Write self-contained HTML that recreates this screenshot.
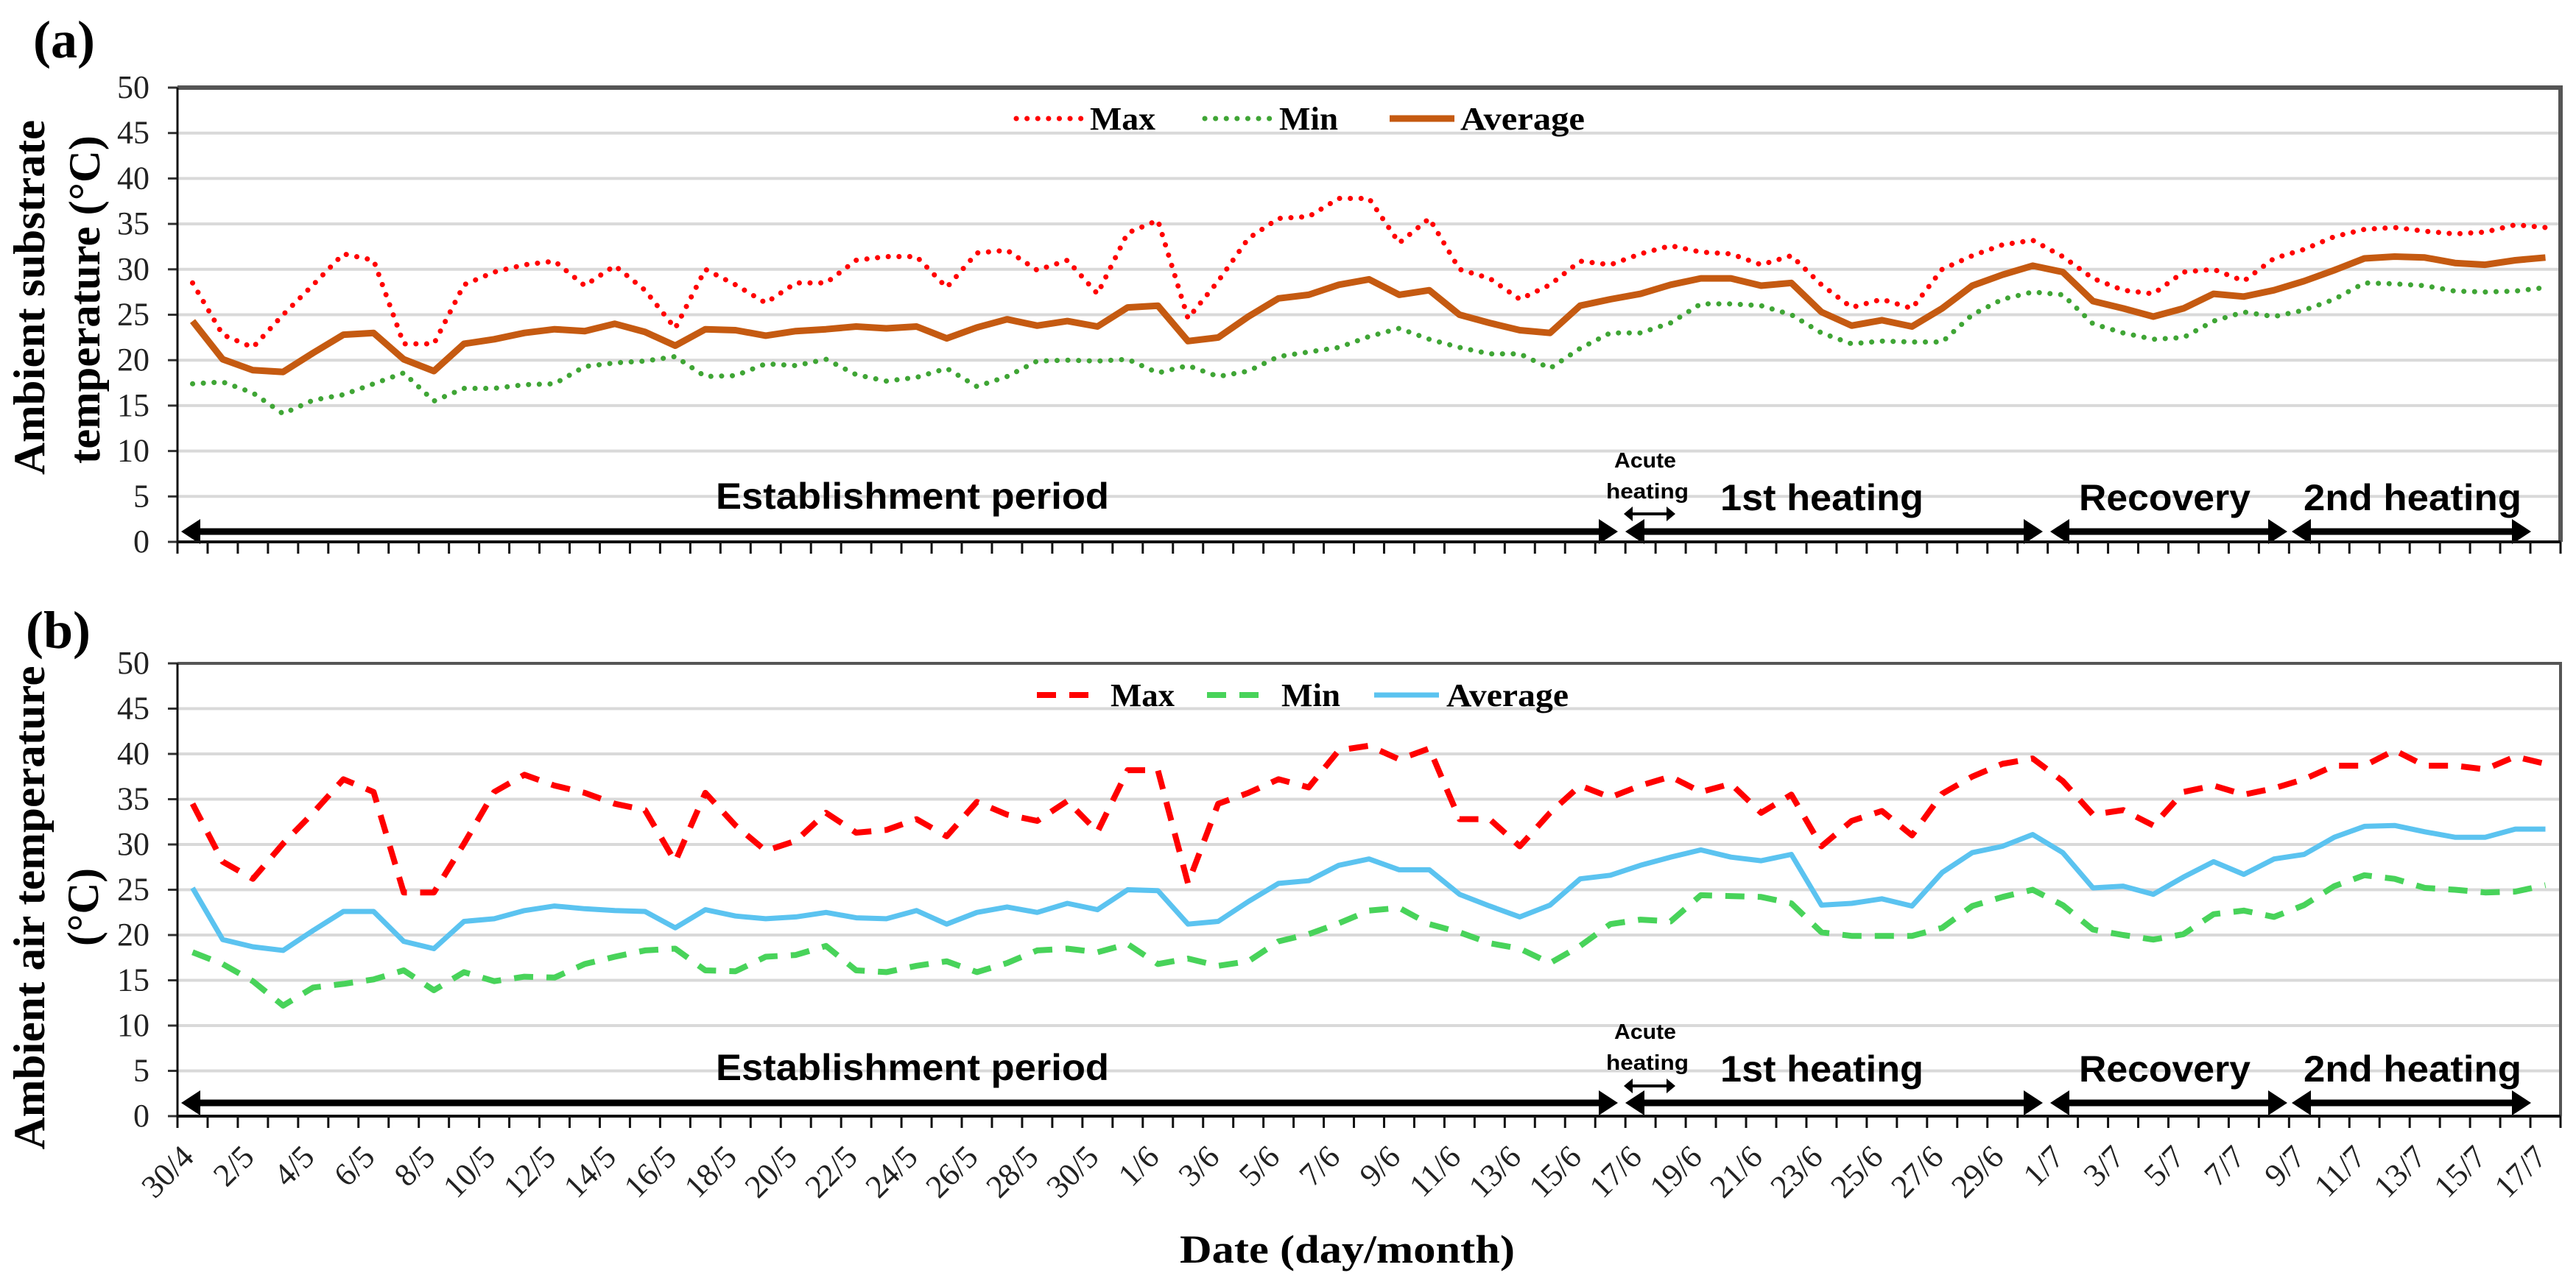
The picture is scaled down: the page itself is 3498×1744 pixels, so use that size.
<!DOCTYPE html>
<html><head><meta charset="utf-8"><style>
html,body{margin:0;padding:0;background:#fff;}
svg{display:block;}
.tick{font-family:"Liberation Serif",serif;font-size:44px;fill:#222;}
.ttl{font-family:"Liberation Serif",serif;font-weight:bold;fill:#000;}
.ann{font-family:"Liberation Sans",sans-serif;font-weight:bold;fill:#000;}
</style></head><body>
<svg id="chart" xmlns="http://www.w3.org/2000/svg" width="3498" height="1744" viewBox="0 0 3498 1744">
<g id="panelA"></g>
<g id="panelB"></g>
</svg>
<script>
// ---- data ----
const dates = [];
(function(){ dates.push('30/4'); for(let d=1;d<=31;d++)dates.push(d+'/5'); for(let d=1;d<=30;d++)dates.push(d+'/6'); for(let d=1;d<=17;d++)dates.push(d+'/7'); })();
const yTicks = [0,5,10,15,20,25,30,35,40,45,50];
const subMax = [28.5,22.8,21.4,25,28.3,31.7,31,21.8,21.8,28.3,29.7,30.5,30.9,28.2,30.4,27.7,23.5,30,28.3,26.3,28.5,28.5,31,31.4,31.4,28,31.8,32.1,29.9,31,27.3,34,35.4,24.6,28.7,33.4,35.6,35.8,37.8,37.8,32.9,35.6,30,29,26.7,28.3,30.9,30.5,31.7,32.6,31.9,31.7,30.5,31.5,28.3,25.8,26.7,25.7,30,31.5,32.7,33.2,31.4,29,27.7,27.3,29.7,30,28.7,31.2,32.2,33.6,34.4,34.6,34.2,33.9,34.1,34.9,34.6];
const subMin = [17.4,17.6,16.4,14.1,15.6,16.2,17.4,18.6,15.5,16.9,16.9,17.3,17.4,19.3,19.7,19.9,20.4,18.2,18.3,19.6,19.4,20.1,18.4,17.7,18.1,19.1,17.1,18.2,19.9,20,19.9,20.1,18.6,19.4,18.2,18.8,20.4,20.9,21.4,22.6,23.5,22.3,21.4,20.7,20.7,19.1,21.3,23,23,24.1,26.2,26.2,26,25,23,21.8,22.1,22,22,25,26.7,27.5,27.2,24,23,22.3,22.5,24.3,25.3,24.8,25.5,26.7,28.5,28.4,28.2,27.6,27.5,27.6,28];
const subAvg = [24.3,20.1,18.9,18.7,20.8,22.8,23,20.1,18.8,21.8,22.3,23,23.4,23.2,24,23.1,21.6,23.4,23.3,22.7,23.2,23.4,23.7,23.5,23.7,22.4,23.6,24.5,23.8,24.3,23.7,25.8,26,22.1,22.5,24.8,26.8,27.2,28.3,28.9,27.2,27.7,25,24.1,23.3,23,26,26.7,27.3,28.3,29,29,28.2,28.5,25.3,23.8,24.4,23.7,25.7,28.2,29.4,30.4,29.7,26.5,25.7,24.8,25.7,27.3,27,27.7,28.7,29.9,31.2,31.4,31.3,30.7,30.5,31,31.3];
const airMax = [34.5,28.1,26.2,30.1,33.5,37.2,35.8,24.7,24.7,30.1,35.8,37.7,36.5,35.7,34.5,33.8,28.1,35.7,32.1,29.3,30.4,33.5,31.3,31.6,32.8,30.9,34.7,33.3,32.6,34.8,31.4,38.2,38.2,25.7,34.5,35.7,37.2,36.3,40.4,40.9,39.4,40.6,32.8,32.8,29.8,33.5,36.5,35.2,36.5,37.5,35.8,36.7,33.5,35.5,29.8,32.6,33.7,31,35.6,37.5,38.9,39.5,37,33.3,33.8,32.1,35.8,36.5,35.5,36.2,37.2,38.7,38.7,40.4,38.7,38.7,38.3,39.7,38.9];
const airMin = [18.1,16.8,14.9,12.2,14.2,14.6,15.1,16.1,13.9,15.9,14.9,15.4,15.3,16.8,17.6,18.3,18.5,16.1,16,17.6,17.8,18.8,16.1,15.9,16.6,17.1,15.9,16.9,18.3,18.5,18.1,19,16.8,17.4,16.6,17.1,19.3,20.1,21.3,22.7,23,21.2,20.3,19.1,18.5,16.9,18.8,21.2,21.7,21.5,24.4,24.3,24.2,23.5,20.3,19.9,19.9,19.9,20.8,23.2,24.2,25,23.3,20.6,20,19.5,20.1,22.3,22.7,22,23.3,25.4,26.6,26.2,25.2,25,24.7,24.8,25.5];
const airAvg = [25.2,19.5,18.7,18.3,20.5,22.6,22.6,19.3,18.5,21.5,21.8,22.7,23.2,22.9,22.7,22.6,20.8,22.8,22.1,21.8,22,22.5,21.9,21.8,22.7,21.2,22.5,23.1,22.5,23.5,22.8,25,24.9,21.2,21.5,23.7,25.7,26,27.7,28.4,27.2,27.2,24.5,23.2,22,23.3,26.2,26.6,27.7,28.6,29.4,28.6,28.2,28.9,23.3,23.5,24,23.2,26.9,29.1,29.8,31.1,29.1,25.2,25.4,24.5,26.4,28.1,26.7,28.4,28.9,30.8,32,32.1,31.4,30.8,30.8,31.7,31.7];

const NS='http://www.w3.org/2000/svg';
const X0=241, X1=3477, N=dates.length, CW=(X1-X0)/N;
function xPos(i){return X0+(i+0.5)*CW;}
function mk(tag,attrs,parent){const e=document.createElementNS(NS,tag);for(const k in attrs)e.setAttribute(k,attrs[k]);parent.appendChild(e);return e;}

function arrow(g,x1,x2,y,name,small){
  const hw=small?12:26, hh=small?10:17, sw=small?4:9;
  const l=mk('line',{x1:x1+hw-2,x2:x2-hw+2,y1:y,y2:y,stroke:'#000','stroke-width':sw},g);
  
  
  const p=mk('path',{d:`M${x1},${y} L${x1+hw},${y-hh} L${x1+hw},${y+hh} Z M${x2},${y} L${x2-hw},${y-hh} L${x2-hw},${y+hh} Z`,fill:'#000'},g);
  
  
}
function txt(g,x,y,s,cls,size,name,extra){
  const t=mk('text',Object.assign({x:x,y:y,'class':cls,'font-size':size},extra||{}),g);
  t.textContent=s;
  
  
  return t;
}

function panel(g,cfg){
  const top=cfg.top,bot=cfg.bot;
  const yPos=v=>bot-v*(bot-top)/50;
  yTicks.forEach(v=>{
    if(v>0&&v<50){const l=mk('line',{x1:X0,x2:X1,y1:yPos(v),y2:yPos(v),stroke:'#d9d9d9','stroke-width':4},g);
    
    }
    const tk=mk('line',{x1:X0-13,x2:X0,y1:yPos(v),y2:yPos(v),stroke:'#333','stroke-width':3},g);
    
    
    txt(g,X0-38,yPos(v)+14,String(v),'tick',44,'y-tick-label',{'text-anchor':'end'});
  });
  const fr=mk('path',{d:`M${X0},${top} L${X1},${top} L${X1},${bot}`,fill:'none',stroke:'#555','stroke-width':cfg.topW},g);
  
  
  const ya=mk('line',{x1:X0,x2:X0,y1:top,y2:bot,stroke:'#111','stroke-width':3},g);
  
  
  const A=cfg.ann;
  arrow(g,246,2197,A.arrowY,'establishment-arrow');
  arrow(g,2207,2774,A.arrowY,'first-heating-arrow');
  arrow(g,2784,3106,A.arrowY,'recovery-arrow');
  arrow(g,3112,3437,A.arrowY,'second-heating-arrow');
  arrow(g,2205,2275,A.smallY,'acute-heating-arrow',true);
  txt(g,972,A.base,'Establishment period','ann',50,'establishment-period-label',{textLength:534,lengthAdjust:'spacingAndGlyphs'});
  txt(g,2192,A.acuteY,'Acute','ann',29,'acute-label',{textLength:84,lengthAdjust:'spacingAndGlyphs'});
  txt(g,2181,A.acuteY+42,'heating','ann',29,'acute-heating-label',{textLength:112,lengthAdjust:'spacingAndGlyphs'});
  txt(g,2336,A.base+2,'1st heating','ann',50,'first-heating-label',{textLength:276,lengthAdjust:'spacingAndGlyphs'});
  txt(g,2823,A.base+2,'Recovery','ann',50,'recovery-label',{textLength:233,lengthAdjust:'spacingAndGlyphs'});
  txt(g,3128,A.base+2,'2nd heating','ann',50,'second-heating-label',{textLength:296,lengthAdjust:'spacingAndGlyphs'});
  cfg.series.forEach(s=>{
    const d=s.data.map((v,i)=>(i?'L':'M')+xPos(i).toFixed(1)+','+yPos(v).toFixed(1)).join(' ');
    const p=mk('path',{d:d,fill:'none',stroke:s.color,'stroke-width':s.w,'stroke-linejoin':'round','stroke-linecap':s.cap||'butt'},g);
    if(s.dash)p.setAttribute('stroke-dasharray',s.dash);
    
    
  });
  const xa=mk('line',{x1:X0,x2:X1,y1:bot,y2:bot,stroke:'#111','stroke-width':4},g);
  
  
  for(let k=0;k<=N;k++){
    const t=mk('line',{x1:X0+k*CW,x2:X0+k*CW,y1:bot,y2:bot+16,stroke:'#111','stroke-width':3},g);
    
    
  }
  const L=cfg.leg;
  cfg.series.forEach((s,j)=>{
    const ln=mk('line',{x1:L.lx[j],x2:L.lx[j]+88,y1:L.y,y2:L.y,stroke:s.color,'stroke-width':s.w,'stroke-linecap':s.cap||'butt'},g);
    if(s.dash)ln.setAttribute('stroke-dasharray',s.dash);
    
    
    txt(g,L.tx[j],L.y+15,s.label,'ttl',44,'legend-entry-'+s.label.toLowerCase(),{textLength:L.tw[j],lengthAdjust:'spacingAndGlyphs'});
  });
}

const gA=document.getElementById('panelA'), gB=document.getElementById('panelB');
panel(gA,{top:119,bot:736,topW:6,
  ann:{arrowY:722,smallY:698,base:691,acuteY:635},
  leg:{y:161,lx:[1380,1636,1887],tx:[1480,1737,1983],tw:[89,80,169]},
  series:[
    {name:'substrate-max-line',label:'Max',data:subMax,color:'#ff0000',w:7,dash:'0.1 14.5',cap:'round'},
    {name:'substrate-min-line',label:'Min',data:subMin,color:'#3fa535',w:7,dash:'0.1 14.5',cap:'round'},
    {name:'substrate-average-line',label:'Average',data:subAvg,color:'#c55a11',w:9}
  ]});
panel(gB,{top:901,bot:1516,topW:4,
  ann:{arrowY:1498,smallY:1475,base:1467,acuteY:1411},
  leg:{y:944,lx:[1408,1639,1866],tx:[1508,1740,1964],tw:[87,80,166]},
  series:[
    {name:'air-max-line',label:'Max',data:airMax,color:'#ff0000',w:8,dash:'26 18'},
    {name:'air-min-line',label:'Min',data:airMin,color:'#48d35a',w:8,dash:'26 18'},
    {name:'air-average-line',label:'Average',data:airAvg,color:'#5bc3f0',w:7}
  ]});

dates.forEach((d,i)=>{
  if(i%2)return;
  const x=xPos(i)+4, y=1574;
  const t=mk('text',{x:x,y:y,'class':'tick','font-size':44,'text-anchor':'end',transform:`rotate(-45 ${x} ${y})`},gB);
  t.textContent=d;
  
  
});

const svg=document.getElementById('chart');
txt(svg,45,78,'(a)','ttl',72,'panel-a-label');
txt(svg,35,880,'(b)','ttl',72,'panel-b-label');
txt(svg,0,0,'Ambient substrate','ttl',60,'y-axis-title-a-line1',{'text-anchor':'middle',transform:'translate(60,404) rotate(-90)',textLength:482,lengthAdjust:'spacingAndGlyphs'});
txt(svg,0,0,'temperature (°C)','ttl',60,'y-axis-title-a-line2',{'text-anchor':'middle',transform:'translate(135,407) rotate(-90)',textLength:446,lengthAdjust:'spacingAndGlyphs'});
txt(svg,0,0,'Ambient air temperature','ttl',60,'y-axis-title-b-line1',{'text-anchor':'middle',transform:'translate(60,1233) rotate(-90)',textLength:657,lengthAdjust:'spacingAndGlyphs'});
txt(svg,0,0,'(°C)','ttl',60,'y-axis-title-b-line2',{'text-anchor':'middle',transform:'translate(133,1232) rotate(-90)',textLength:106,lengthAdjust:'spacingAndGlyphs'});
txt(svg,1602,1715,'Date (day/month)','ttl',54,'x-axis-title',{textLength:455,lengthAdjust:'spacingAndGlyphs'});
</script>
</body></html>
